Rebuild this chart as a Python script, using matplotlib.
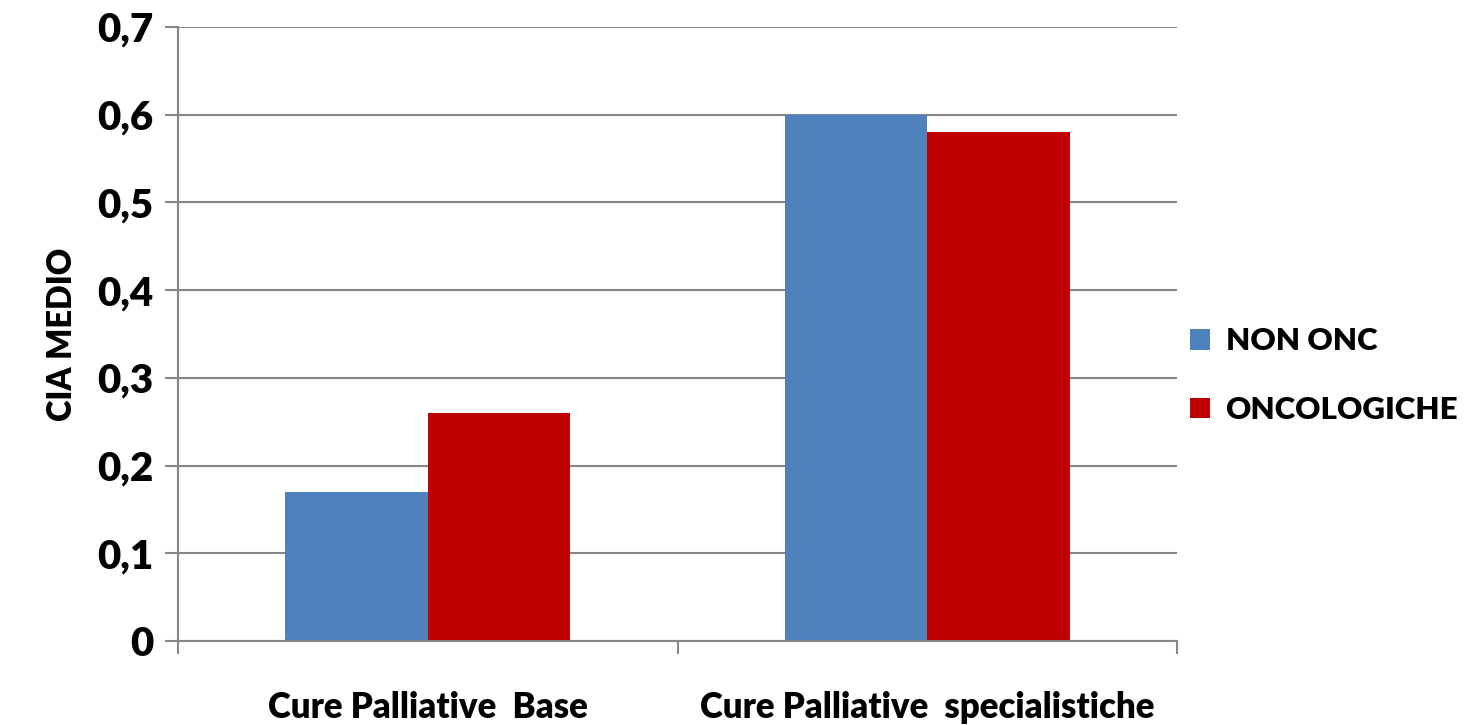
import matplotlib.pyplot as plt
import numpy as np

categories = ['Cure Palliative  Base', 'Cure Palliative  specialistiche']
non_onc = [0.17, 0.60]
oncologiche = [0.26, 0.58]
series_names = ['NON ONC', 'ONCOLOGICHE']
yticks = [0, 0.1, 0.2, 0.3, 0.4, 0.5, 0.6, 0.7]
ytick_labels = ['0', '0,1', '0,2', '0,3', '0,4', '0,5', '0,6', '0,7']

plt.rcParams['font.family'] = ['Lato', 'DejaVu Sans']
wt = 'heavy'

fig = plt.figure(figsize=(14.77, 7.25), dpi=100)
ax = fig.add_axes([0.1205, 0.1159, 0.6765, 0.8469])

x = np.arange(len(categories))
w = 0.285
ax.bar(x - w / 2, non_onc, w, color='#4F81BD', label=series_names[0], zorder=3)
ax.bar(x + w / 2, oncologiche, w, color='#C00000', label=series_names[1], zorder=3)

ax.set_xlim(-0.5, 1.5)
ax.set_ylim(0, 0.7)
ax.set_yticks(yticks)
ax.set_yticklabels(ytick_labels, fontsize=29, fontweight=wt)
ax.set_xticks(x)
ax.set_xticklabels(categories, fontsize=25, fontweight=wt)
ax.tick_params(axis='x', length=0, pad=36)
ax.set_xticks([-0.5, 0.5, 1.5], minor=True)
ax.tick_params(axis='x', which='minor', length=9.5, width=1.5, color='#868686')
ax.tick_params(axis='y', length=9.5, width=1.5, color='#868686', pad=8)

ax.grid(axis='y', color='#868686', linewidth=1.5, zorder=0)
for s in ['top', 'right']:
    ax.spines[s].set_visible(False)
for s in ['left', 'bottom']:
    ax.spines[s].set_color('#868686')
    ax.spines[s].set_linewidth(1.5)
ax.spines['bottom'].set_zorder(4)

ax.set_ylabel('CIA MEDIO', fontsize=23.5, fontweight=wt, labelpad=14)

ax.legend(loc='center left', bbox_to_anchor=(1.0, 0.432), frameon=False,
          prop={'size': 22.5, 'weight': wt}, handlelength=0.65, handleheight=0.65,
          handletextpad=0.5, labelspacing=1.3, borderaxespad=0.0)

fig.savefig('out.png', dpi=100)
